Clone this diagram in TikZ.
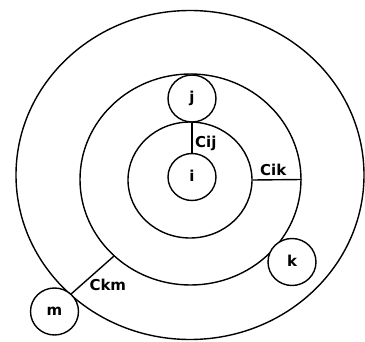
\documentclass[tikz,border=0pt]{standalone}
\usepackage{fontspec}
\setmainfont{DejaVu Sans}
\usetikzlibrary{shapes.geometric}
\begin{document}
\begin{tikzpicture}[x=1pt,y=1pt,
  ring/.style={draw, ellipse, line width=1.4pt, inner sep=0pt},
  vertex/.style={draw, ellipse, fill=white, line width=1.4pt, minimum width=48pt, minimum height=47pt, inner sep=0pt, font=\fontsize{15}{18}\selectfont\bfseries, text height=8pt, text depth=0pt},
  lbl/.style={inner sep=0pt, font=\fontsize{15}{18}\selectfont\bfseries},
  link/.style={line width=1.4pt}]
\useasboundingbox (0,0) rectangle (365,341);
\node[ring, minimum width=348pt, minimum height=329pt] (outer) at (190,166) {};
\node[ring, minimum width=221pt, minimum height=211pt] (middle) at (190.5,161.5) {};
\node[ring, minimum width=124pt, minimum height=116pt] (inner) at (190,161) {};
\node[vertex] (i) at (192,164) {i};
\node[vertex] (j) at (192,242.5) {j};
\node[vertex] (k) at (292,79) {k};
\draw[link] (middle.225) -- (outer.225);
\node[vertex] (m) at (54.5,29.5) {m};
\draw[link] (j) -- (i);
\draw[link] (inner.east) -- (middle.east);
\node[lbl, anchor=base west] (cij) at (195,193.7) {Cij};
\node[lbl, anchor=base west] (cik) at (260,166) {Cik};
\node[lbl, anchor=base west] (ckm) at (89.3,50.3) {Ckm};
\end{tikzpicture}
\end{document}
